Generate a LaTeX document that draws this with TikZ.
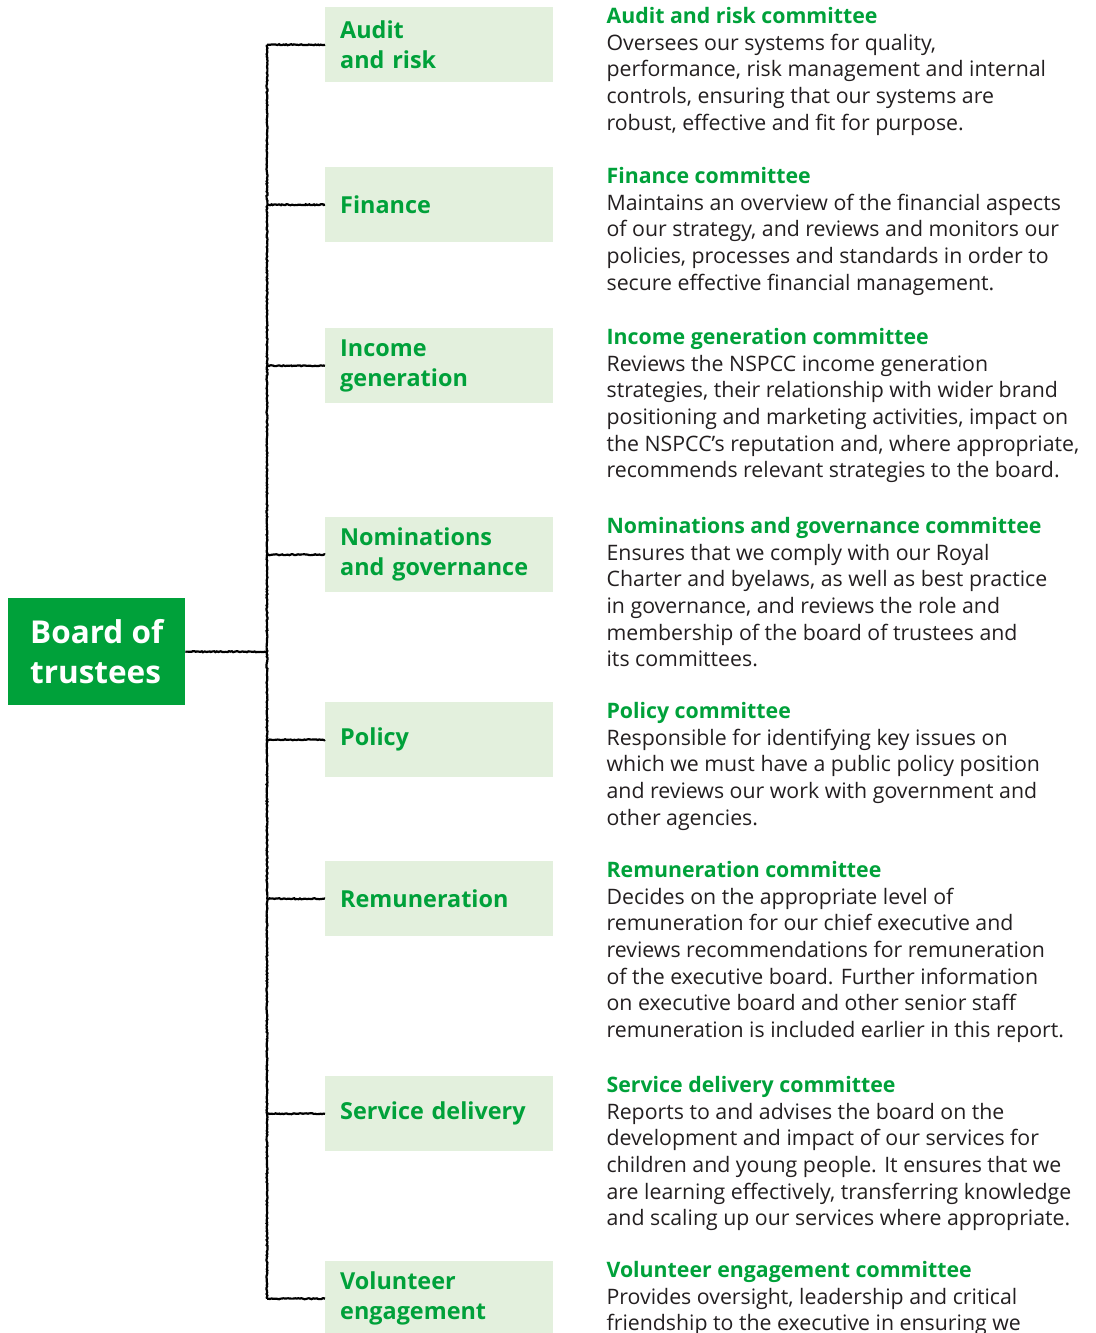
\documentclass[tikz,border=0pt]{standalone}
\usepackage{fontspec}
\setmainfont{Open Sans}
\usepackage{xcolor}
\usetikzlibrary{positioning, decorations.pathmorphing}

\definecolor{nsgreen}{HTML}{00A13A}
\definecolor{nslight}{HTML}{E3F0DD}
\definecolor{nstext}{HTML}{231F20}

% green heading line on top of each description
\newcommand{\desctitle}[1]{{\bfseries\color{nsgreen}#1}\\}

\begin{document}
\begin{tikzpicture}[x=1pt, y=-1pt,
    board/.style={rectangle, fill=nsgreen, text=white, font=\bfseries\fontsize{31.5}{40}\selectfont, minimum width=177pt, minimum height=107pt, align=left, anchor=north west},
    cbox/.style={rectangle, fill=nslight, text=nsgreen, font=\bfseries\fontsize{23.4}{30}\selectfont, minimum width=228pt, minimum height=75pt, inner xsep=15pt, text width=198pt, align=left, anchor=north west},
    desc/.style={anchor=north west, inner sep=0pt, xshift=53pt, align=left, text=nstext, font=\fontsize{21.3}{26.7}\selectfont},
    sketch/.style={line width=2.2pt, decorate, decoration={random steps, segment length=1.5pt, amplitude=0.5pt}}]

    \useasboundingbox (0,0) rectangle (1095,1333);

    \node [board] (board) at (8,598) {Board of\\trustees};

    % committees
    \node [cbox] (audit) at (325,7) {Audit\\and risk};
    \node [cbox] (finance) at (325,167) {Finance};
    \node [cbox] (income) at (325,328) {Income\\generation};
    \node [cbox] (nominations) at (325,517) {Nominations\\and governance};
    \node [cbox] (policy) at (325,702) {Policy};
    \node [cbox] (remuneration) at (325,861) {Remuneration};
    \node [cbox] (service) at (325,1076) {Service delivery};
    \node [cbox] (volunteer) at (325,1261) {Volunteer\\engagement};

    % descriptions
    \node [desc] (auditdesc) at (audit.north east) {\desctitle{Audit and risk committee}
        Oversees our systems for quality,\\
        performance, risk management and internal\\
        controls, ensuring that our systems are\\
        robust, effective and fit for purpose.};
    \node [desc] (financedesc) at (finance.north east) {\desctitle{Finance committee}
        Maintains an overview of the financial aspects\\
        of our strategy, and reviews and monitors our\\
        policies, processes and standards in order to\\
        secure effective financial management.};
    \node [desc] (incomedesc) at (income.north east) {\desctitle{Income generation committee}
        Reviews the NSPCC income generation\\
        strategies, their relationship with wider brand\\
        positioning and marketing activities, impact on\\
        the NSPCC’s reputation and, where appropriate,\\
        recommends relevant strategies to the board.};
    \node [desc] (nominationsdesc) at (nominations.north east) {\desctitle{Nominations and governance committee}
        Ensures that we comply with our Royal\\
        Charter and byelaws, as well as best practice\\
        in governance, and reviews the role and\\
        membership of the board of trustees and\\
        its committees.};
    \node [desc] (policydesc) at (policy.north east) {\desctitle{Policy committee}
        Responsible for identifying key issues on\\
        which we must have a public policy position\\
        and reviews our work with government and\\
        other agencies.};
    \node [desc] (remunerationdesc) at (remuneration.north east) {\desctitle{Remuneration committee}
        Decides on the appropriate level of\\
        remuneration for our chief executive and\\
        reviews recommendations for remuneration\\
        of the executive board. Further information\\
        on executive board and other senior staff\\
        remuneration is included earlier in this report.};
    \node [desc] (servicedesc) at (service.north east) {\desctitle{Service delivery committee}
        Reports to and advises the board on the\\
        development and impact of our services for\\
        children and young people. It ensures that we\\
        are learning effectively, transferring knowledge\\
        and scaling up our services where appropriate.};
    \node [desc] (volunteerdesc) at (volunteer.north east) {\desctitle{Volunteer engagement committee}
        Provides oversight, leadership and critical\\
        friendship to the executive in ensuring we};

    % hand drawn tree
    \coordinate (trunk) at (267,0);
    \draw [sketch] (board.east) -- (board.east -| trunk);
    \draw [sketch] (audit.west -| trunk) -- (volunteer.west -| trunk);
    \foreach \c in {audit, finance, income, nominations, policy, remuneration, service, volunteer}
        \draw [sketch] (\c.west -| trunk) -- (\c.west);
\end{tikzpicture}
\end{document}
